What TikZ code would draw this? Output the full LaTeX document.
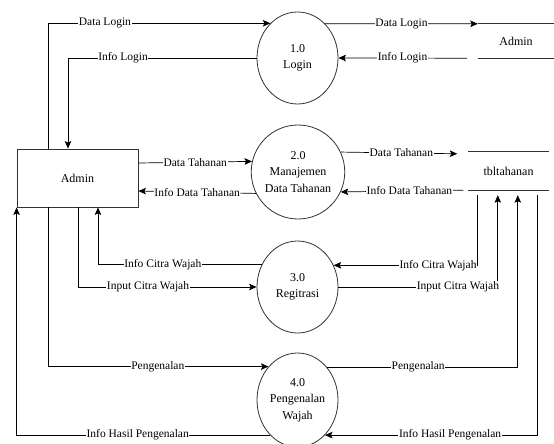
\documentclass[tikz,border=0pt]{standalone}
\usepackage{fontspec}
\setmainfont{Liberation Serif}
\usetikzlibrary{shapes.geometric,arrows.meta}
\begin{document}
\begin{tikzpicture}[x=1pt,y=-1pt,
  proc/.style={draw=black!80,line width=0.8pt,ellipse,minimum width=81pt,minimum height=92pt,inner sep=0pt,align=center,font=\fontsize{12}{16.5}\selectfont},
  entity/.style={draw=black!80,line width=0.8pt,rectangle,minimum width=121pt,minimum height=58pt,inner sep=0pt,font=\fontsize{12}{14}\selectfont},
  store/.style={rectangle,inner sep=0pt,font=\fontsize{12}{14}\selectfont},
  flow/.style={line width=0.7pt,-{Stealth[length=7.5pt,width=6.5pt,inset=1.5pt]}},
  lbl/.style={fill=white,inner sep=0.6pt,font=\fontsize{11.5}{12}\selectfont}]
\useasboundingbox (0,0) rectangle (554,444);
\fill[white] (0,0) rectangle (554,444);

\node[entity] (admin) at (77.5,178) {Admin};
\node[proc] (p1) at (297.5,58) {1.0\\Login};
\node[proc,minimum height=94pt] (p2) at (298,172) {2.0\\Manajemen\\Data Tahanan};
\node[proc] (p3) at (297.5,287) {3.0\\Regitrasi};
\node[proc,minimum height=94pt] (p4) at (297.5,400) {4.0\\Pengenalan\\Wajah};

\node[store,minimum width=76pt,minimum height=34pt] (ds1) at (516,41) {Admin};
\draw[line width=0.8pt,black!80] (ds1.north west) -- (ds1.north east) (ds1.south west) -- (ds1.south east);
\node[store,minimum width=80pt,minimum height=38pt] (ds2) at (508.5,171) {tbltahanan};
\draw[line width=0.8pt,black!80] (ds2.north west) -- (ds2.north east) (ds2.south west) -- (ds2.south east);

\coordinate (v1) at ([xshift=9.5pt,yshift=-5pt]ds2.south west);
\coordinate (v2) at ([xshift=29.5pt,yshift=-5pt]ds2.south west);
\coordinate (v3) at ([xshift=49.5pt,yshift=-5pt]ds2.south west);
\coordinate (v4) at ([xshift=69.5pt,yshift=-5pt]ds2.south west);

% Login
\draw[flow] ([xshift=-29.5pt]admin.north) |- (p1.128.8) node[lbl,pos=0.628] {Data Login};
\draw[flow] (p1.west) -| ([xshift=-9.5pt]admin.north) node[lbl,pos=0.354] {Info Login};
\draw[flow] (p1.51.2) -- (ds1.north west) node[lbl,midway] {Data Login};
\draw[flow] ([xshift=-11pt]ds1.south west) -- (p1.east) node[lbl,midway] {Info Login};

% Data Tahanan
\draw[flow] ([yshift=15pt]admin.east) -- (p2.167.2) node[lbl,midway] {Data Tahanan};
\draw[flow] (p2.207.2) -- ([yshift=-13pt]admin.east) node[lbl,midway] {Info Data Tahanan};
\draw[flow] (p2.25.7) -- ([xshift=-11pt,yshift=-2pt]ds2.north west) node[lbl,pos=0.52] {Data Tahanan};
\draw[flow] ([xshift=-5pt]ds2.south west) -- (p2.-25.7) node[lbl,pos=0.44] {Info Data Tahanan};

% Registrasi
\draw[flow] (v1) |- (p3.31.7) node[lbl,pos=0.638] {Info Citra Wajah};
\draw[flow] (p3.148.3) -| ([xshift=20.5pt]admin.south) node[lbl,pos=0.302] {Info Citra Wajah};
\draw[flow] ([xshift=0.5pt]admin.south) |- (p3.west) node[lbl,pos=0.696] {Input Citra Wajah};
\draw[flow] (p3.east) -| (v2) node[lbl,pos=0.375] {Input Citra Wajah};

% Pengenalan
\draw[flow] ([xshift=-29.5pt]admin.south) |- (p4.131.15) node[lbl,pos=0.749] {Pengenalan};
\draw[flow] (p4.48.85) -| (v3) node[lbl,pos=0.239] {Pengenalan};
\draw[flow] (v4) |- (p4.-52.4) node[lbl,pos=0.706] {Info Hasil Pengenalan};
\draw[flow] (p4.232.4) -| (admin.south west) node[lbl,pos=0.261] {Info Hasil Pengenalan};
\end{tikzpicture}
\end{document}
